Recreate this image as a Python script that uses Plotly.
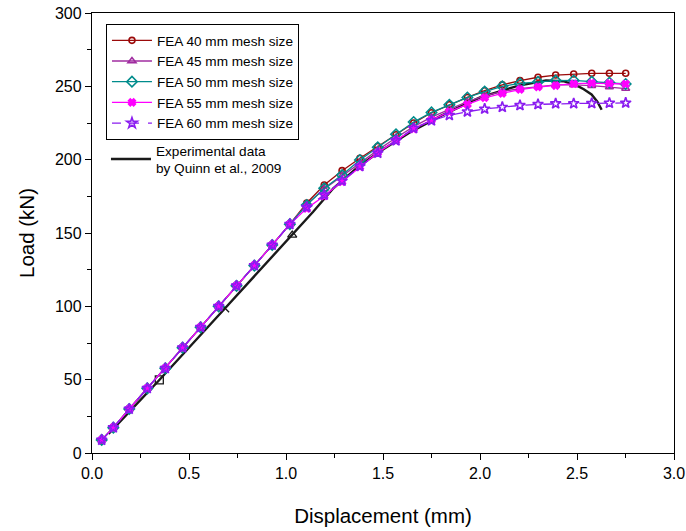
import plotly.graph_objects as go

# Displacement stations (mm) shared by all FEA runs
disp = [0.05, 0.11, 0.192, 0.285, 0.378, 0.467, 0.56, 0.653, 0.745, 0.837,
        0.929, 1.02, 1.107, 1.197, 1.289, 1.381, 1.473, 1.567, 1.658, 1.75,
        1.842, 1.935, 2.024, 2.115, 2.206, 2.299, 2.39, 2.483, 2.576, 2.667, 2.751]

# Linear-elastic part is identical for every mesh size (kN)
load_linear = [8.9, 17.3, 30.0, 44.1, 57.7, 71.8, 85.7, 100.0, 114.0, 127.8, 141.8, 156.0]

fea40 = load_linear + [170.5, 182.7, 192.5, 201.0, 209.0, 217.0, 225.0, 232.0, 237.5, 242.5,
                       247.0, 251.0, 253.9, 256.2, 257.7, 258.4, 258.9, 258.9, 258.9]
fea45 = load_linear + [169.5, 180.0, 189.0, 198.0, 206.5, 215.0, 222.5, 229.0, 234.5, 239.5,
                       243.5, 246.5, 248.5, 250.0, 251.0, 251.0, 250.5, 249.5, 248.5]
fea50 = load_linear + [169.1, 180.5, 189.5, 199.8, 208.4, 217.3, 225.7, 232.2, 237.4, 242.4,
                       246.4, 250.0, 252.0, 253.0, 253.9, 254.0, 253.2, 252.5, 251.6]
fea55 = load_linear + [166.8, 175.2, 185.0, 195.2, 204.8, 213.0, 221.0, 227.0, 232.7, 237.7,
                       242.2, 245.2, 247.8, 249.5, 250.5, 251.8, 252.2, 252.0, 251.6]
fea60 = load_linear + [167.5, 176.0, 185.5, 195.5, 204.5, 213.0, 221.4, 226.6, 230.3, 232.7,
                       234.6, 235.8, 237.0, 237.7, 238.2, 238.3, 238.4, 238.6, 238.7]

# Experimental curve (Quinn et al., 2009)
exp_disp = [0.085, 0.347, 0.686, 1.032, 1.14, 1.244, 1.38, 1.5, 1.65, 1.8, 2.0,
            2.2, 2.34, 2.43, 2.5, 2.535, 2.575, 2.605, 2.627]
exp_load = [13.0, 49.8, 98.7, 148.6, 164.5, 180.5, 196.0, 207.0, 219.5, 230.0, 242.5,
            250.5, 254.0, 253.5, 250.5, 248.0, 244.5, 239.5, 234.0]
exp_mark_disp = [0.347, 0.686, 1.032]
exp_mark_load = [49.8, 98.7, 148.6]
exp_mark_symbols = ["square-open", "x-thin-open", "triangle-up-open"]

series = [
    ("FEA 40 mm mesh size", fea40, "#9B0A0A", "circle-open", "solid", 6),
    ("FEA 45 mm mesh size", fea45, "#A02CA0", "triangle-up-open", "solid", 7),
    ("FEA 50 mm mesh size", fea50, "#008C8C", "diamond-open", "solid", 8),
    ("FEA 55 mm mesh size", fea55, "#FF00FF", "x", "solid", 6),
    ("FEA 60 mm mesh size", fea60, "#8A1CF0", "star-open", "dash", 8),
]

fig = go.Figure()

fig.add_trace(go.Scatter(
    x=exp_disp, y=exp_load, mode="lines",
    name="Experimental data<br>by Quinn et al., 2009",
    line=dict(color="#1a1a1a", width=2.4),
    legend="legend2",
))
fig.add_trace(go.Scatter(
    x=exp_mark_disp, y=exp_mark_load, mode="markers", showlegend=False,
    marker=dict(symbol=exp_mark_symbols, size=8, color="#1a1a1a",
                line=dict(color="#1a1a1a", width=1.3)),
))

for name, vals, color, symbol, dash, msize in series:
    fig.add_trace(go.Scatter(
        x=disp, y=vals, mode="lines+markers", name=name,
        line=dict(color=color, width=1.3, dash=dash),
        marker=dict(symbol=symbol, size=msize, color=color,
                    line=dict(color=color, width=1.6)),
    ))

axis_font = dict(family="Liberation Sans, Arial, sans-serif", size=16, color="black")
title_font = dict(family="Liberation Sans, Arial, sans-serif", size=20.5, color="black")

fig.update_layout(
    width=686, height=531,
    margin=dict(l=92, r=12, t=13, b=78),
    paper_bgcolor="white", plot_bgcolor="white",
    font=dict(family="Liberation Sans, Arial, sans-serif", color="black"),
    xaxis=dict(
        range=[0, 3], dtick=0.5, tickformat=".1f", automargin=False,
        showline=True, linecolor="black", linewidth=1.3, mirror=True,
        ticks="outside", ticklen=6, tickwidth=1.2, tickcolor="black",
        minor=dict(dtick=0.25, ticks="outside", ticklen=4, tickcolor="black", tickwidth=1),
        showgrid=False, zeroline=False, tickfont=axis_font,
        title=dict(text="Displacement (mm)", font=title_font, standoff=27),
    ),
    yaxis=dict(
        range=[0, 300], dtick=50, automargin=False,
        showline=True, linecolor="black", linewidth=1.3, mirror=True,
        ticks="outside", ticklen=6, tickwidth=1.2, tickcolor="black",
        minor=dict(dtick=25, ticks="outside", ticklen=4, tickcolor="black", tickwidth=1),
        showgrid=False, zeroline=False, tickfont=axis_font,
        title=dict(text="Load (kN)", font=title_font, standoff=14),
    ),
    legend=dict(
        x=0.024, y=0.975, xanchor="left", yanchor="top",
        bordercolor="black", borderwidth=1, bgcolor="white",
        font=dict(family="Liberation Sans, Arial, sans-serif", size=13.6, color="black"),
        itemwidth=40, tracegroupgap=0,
    ),
    legend2=dict(
        x=0.024, y=0.723, xanchor="left", yanchor="top",
        borderwidth=0, bgcolor="rgba(0,0,0,0)",
        font=dict(family="Liberation Sans, Arial, sans-serif", size=13.6, color="black"),
        itemwidth=40,
    ),
)

fig.write_html("out.html")
